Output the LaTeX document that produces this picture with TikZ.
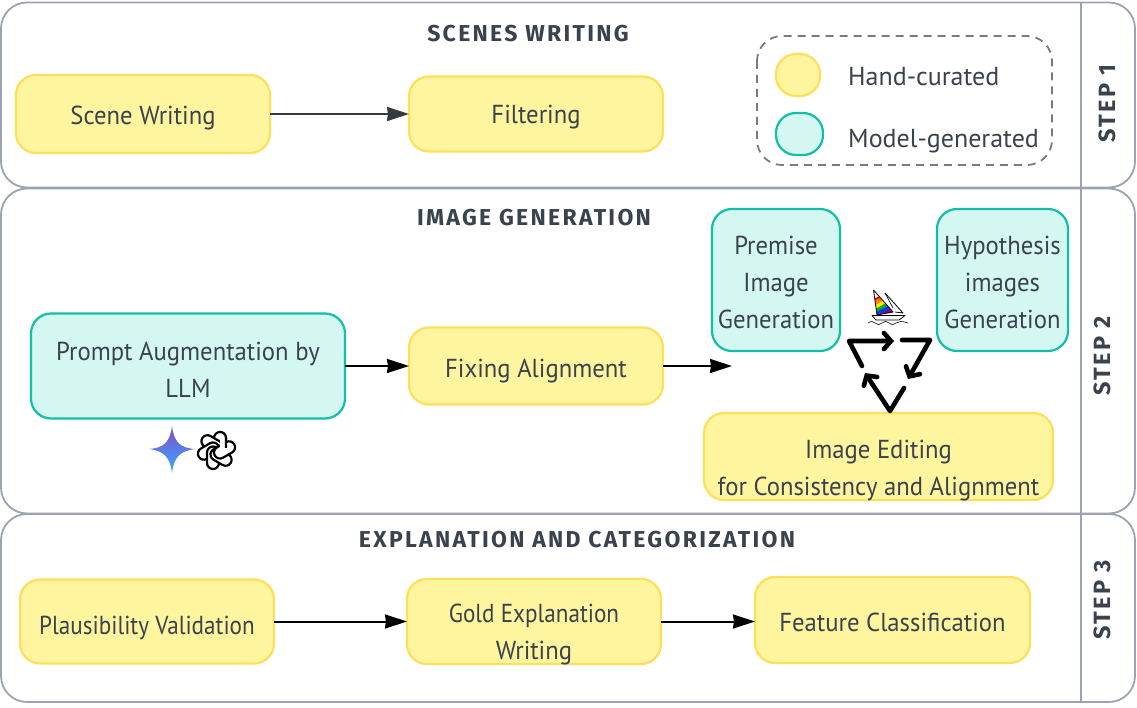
\documentclass[tikz,border=0pt]{standalone}
\usepackage{fontspec}
\setmainfont[FakeStretch=.95]{PT Sans}
\newfontfamily\legendfont{PT Sans}
\newfontfamily\tightfont[FakeStretch=.89]{PT Sans}
\newfontfamily\headfont[LetterSpace=10]{Fira Sans}
\usetikzlibrary{arrows.meta,shadings}
\definecolor{txt}{HTML}{3A424E}
\definecolor{rowline}{HTML}{9CA3AF}
\definecolor{yfill}{HTML}{FFF59F}
\definecolor{yline}{HTML}{FFDE59}
\definecolor{tfill}{HTML}{D5F7F1}
\definecolor{tline}{HTML}{10BFA6}
\definecolor{arrowdark}{HTML}{343A40}
\newcommand{\lowtext}[2]{\raisebox{-#1}[\height][\depth]{\begin{tabular}{@{}c@{}}#2\end{tabular}}}
\tikzset{
  x=1pt,y=-1pt,
  rowbox/.style={draw=rowline,line width=1.8pt,rounded corners=26pt,inner sep=0pt,outer sep=0pt},
  hand/.style={draw=yline,line width=2.2pt,fill=yfill,rounded corners=20pt,inner sep=0pt,outer sep=0pt,
    text=txt,font=\fontsize{26}{37}\selectfont},
  model/.style={hand,draw=tline,fill=tfill},
  headtext/.style={text=txt,font=\headfont\bfseries\fontsize{23}{26}\selectfont,inner sep=0pt},
  steptext/.style={text=txt,rotate=90,font=\headfont\bfseries\fontsize{23.5}{26}\selectfont,inner sep=0pt},
  flow/.style={line width=2pt,-{Stealth[length=22pt,width=14pt,inset=1pt]}},
  cycle/.style={line width=4.6pt,line join=round,line cap=round,-{Straight Barb[length=7pt,width=16pt,line cap=round]}},
  legendtext/.style={text=txt,anchor=west,inner sep=0pt,font=\legendfont\fontsize{26}{30}\selectfont},
}
\begin{document}
\begin{tikzpicture}
\useasboundingbox (0,0) rectangle (1137,708);
% rows
\node[rowbox,minimum width=1134pt,minimum height=185pt] (row1) at (568,95) {};
\node[rowbox,minimum width=1134pt,minimum height=325pt] (row2) at (568,351) {};
\node[rowbox,minimum width=1134pt,minimum height=188pt] (row3) at (568,608) {};
\draw[draw=rowline,line width=1.8pt] (1081,2) -- (1081,702);
\node[steptext] (s1) at (1107,104) {STEP 1};
\node[steptext] (s2) at (1102,356) {STEP 2};
\node[steptext] (s3) at (1102,600) {STEP 3};
% titles
\node[headtext] (t1) at (528,33.5) {SCENES WRITING};
\node[headtext] (t2) at (534,217.5) {IMAGE GENERATION};
\node[headtext] (t3) at (577,539.5) {EXPLANATION AND CATEGORIZATION};
% legend
\draw[draw=txt!70,line width=1.8pt,dash pattern=on 8pt off 6pt,rounded corners=25pt] (757,36) rectangle (1052,165);
\node[hand,minimum width=44pt,minimum height=42pt] (lg1) at (798,75) {};
\node[model,minimum width=47pt,minimum height=42pt] (lg2) at (799.5,134) {};
\node[legendtext] (lt1) at (848,77) {Hand-curated};
\node[legendtext] (lt2) at (848,141) {Model-generated};
% step 1
\node[hand,minimum width=254pt,minimum height=78pt] (scene) at (143,114) {\lowtext{3pt}{Scene Writing}};
\node[hand,minimum width=254pt,minimum height=75pt] (filter) at (536,114) {\lowtext{2pt}{Filtering}};
\draw[flow,draw=arrowdark] (scene) -- (filter);
% step 2
\node[model,minimum width=314pt,minimum height=105pt] (prompt) at (188,366) {\lowtext{6pt}{Prompt Augmentation by\\LLM}};
\node[hand,minimum width=254pt,minimum height=77pt] (fix) at (536,366) {\lowtext{4pt}{Fixing Alignment}};
\coordinate (fixend) at (732,366);
\draw[flow] (prompt) -- (fix);
\draw[flow] (fix) -- (fixend);
\node[model,minimum width=128pt,minimum height=142pt] (premise) at (776,280) {\lowtext{4pt}{Premise\\Image\\Generation}};
\node[model,minimum width=131pt,minimum height=142pt] (hyp) at (1002.5,280) {\lowtext{4pt}{Hypothesis\\images\\Generation}};
\node[hand,minimum width=349pt,minimum height=87pt] (edit) at (878.5,456.5) {\lowtext{13pt}{Image Editing\\for Consistency and Alignment}};
% cycle arrows
\coordinate (c1) at (862,366); \coordinate (c2) at (849,341); \coordinate (c3) at (894,341);
\coordinate (c4) at (902,340); \coordinate (c5) at (930,340); \coordinate (c6) at (908,379);
\coordinate (c7) at (904,388); \coordinate (c8) at (890,411); \coordinate (c9) at (865,373);
\draw[cycle] (c1) -- (c2) -- (c3);
\draw[cycle] (c4) -- (c5) -- (c6);
\draw[cycle] (c7) -- (c8) -- (c9);
% midjourney boat
\begin{scope}
  \clip (873.5,290) -- (893,312) -- (877,315) -- cycle;
  \fill[red]            (868,300) -- (888,294) -- (890,300) -- (868,306) -- cycle;
  \fill[orange]         (868,304) -- (884,296) -- (886,300) -- (868,309) -- cycle;
  \fill[yellow!90!orange] (868,309) -- (886,299) -- (888,302) -- (868,313) -- cycle;
  \fill[green!70!black] (868,313) -- (888,302) -- (890,305) -- (868,316) -- cycle;
  \fill[blue!80!cyan]   (868,316) -- (890,305) -- (892,308) -- (868,319) -- cycle;
  \fill[violet]         (868,319) -- (892,308) -- (895,312) -- (868,322) -- cycle;
\end{scope}
\draw[black,line width=.8pt,line join=round] (873.5,290) -- (893,312) -- (877,315) -- cycle;
\draw[black,line width=.8pt,line join=round] (885,293) -- (903,313) -- (895,312);
\draw[black,line width=.6pt] (885,293) -- (893,308);
\draw[black,line width=.8pt,fill=white,line join=round] (872,315.5) -- (905,315.5) -- (899,320) -- (876,320) -- cycle;
\draw[black,line width=.6pt] (868,323) .. controls (871,321) and (873,321) .. (875,323) .. controls (878,325) and (880,325) .. (882,323) .. controls (885,321) and (887,321) .. (889,323) .. controls (892,325) and (894,325) .. (896,323) .. controls (899,321) and (902,321) .. (908,323);
% gemini star
\shade[left color=violet!60!blue!70,right color=cyan!60!blue!80,shading angle=0]
  (172,426) .. controls (174,442) and (180,448) .. (195,449)
  .. controls (180,451) and (174,457) .. (172,473)
  .. controls (170,457) and (164,451) .. (149,449)
  .. controls (164,448) and (170,442) .. (172,426) -- cycle;
% openai knot
\begin{scope}[shift={(216.5,450.5)}]
  \foreach \a in {0,60,...,300}{
    \draw[black,line width=2.2pt,fill=white,rotate=\a,rounded corners=6pt]
      (-2.5,-18.5) rectangle (9.5,4);
  }
  \begin{scope}
    \clip (3.5,-24) rectangle (14,-3);
    \draw[black,line width=2.2pt,fill=white,rounded corners=6pt] (-2.5,-18.5) rectangle (9.5,4);
  \end{scope}
\end{scope}
% step 3
\node[hand,minimum width=254pt,minimum height=84pt] (plaus) at (147,621.5) {\lowtext{6pt}{\tightfont Plausibility Validation}};
\node[hand,minimum width=254pt,minimum height=85pt] (gold) at (534,621.5) {\lowtext{12pt}{\tightfont Gold Explanation\\Writing}};
\node[hand,minimum width=275pt,minimum height=86pt] (feat) at (892.5,620) {\lowtext{4pt}{Feature Classification}};
\draw[flow] (plaus) -- (gold);
\draw[flow] (gold.east) -- (feat.west |- gold.east);
\end{tikzpicture}
\end{document}
